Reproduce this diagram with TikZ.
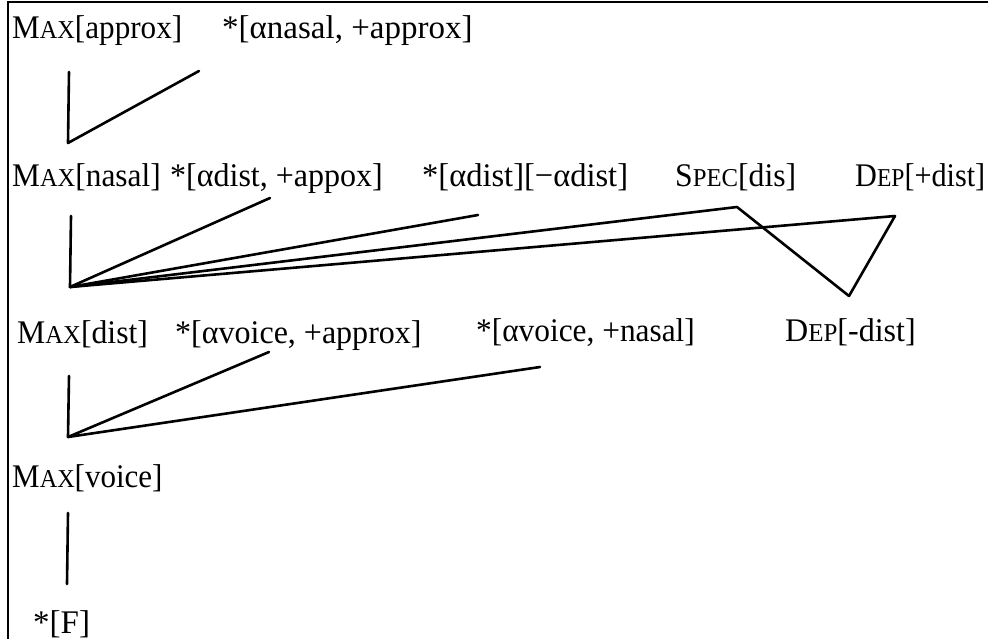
\documentclass[tikz,border=0pt]{standalone}
\usepackage{fontspec}
\setmainfont{Liberation Serif}
\usepackage{graphicx}
\newcommand{\smcap}[2]{#1\scalebox{0.78}{#2}}
\newcommand{\squeeze}[2]{\scalebox{#1}[1]{#2}}

\begin{document}
\begin{tikzpicture}[x=1pt, y=-1pt,
    every node/.style={font=\fontsize{33}{36}\selectfont, anchor=base west, inner sep=0pt},
    link/.style={line width=2.6pt, line cap=round, line join=round}]
  \useasboundingbox (0,0) rectangle (988,639);
  \draw[line width=1.5pt] (8,639) -- (8,2) -- (988,2);

  % top row
  \node (maxapprox) at (12,39) {\squeeze{0.944}{\smcap{M}{AX}[approx]}};
  \node (nasalapprox) at (222,39) {*[αnasal, +approx]};
  \coordinate (v1) at (68,143);
  \coordinate (maxapprox-foot) at (69,72);
  \coordinate (nasalapprox-foot) at (199,71);
  \draw[link] (maxapprox-foot) -- (v1) -- (nasalapprox-foot);

  % second row
  \node (maxnasal) at (12,187) {\squeeze{0.95}{\smcap{M}{AX}[nasal]}};
  \node (distapprox) at (170,187) {\squeeze{0.97}{*[αdist, +appox]}};
  \node (distdist) at (422,187) {\squeeze{0.985}{*[αdist][−αdist]}};
  \node (specdis) at (675,187) {\squeeze{0.96}{\smcap{S}{PEC}[dis]}};
  \node (depplus) at (855,187) {\squeeze{0.915}{\smcap{D}{EP}[+dist]}};
  \coordinate (v2) at (70,287);
  \coordinate (maxnasal-foot) at (71,216);
  \coordinate (distapprox-foot) at (270,198);
  \coordinate (distdist-foot) at (478,215);
  \coordinate (specdis-foot) at (737,207);
  \coordinate (depplus-foot) at (895,216);
  \coordinate (v3) at (849,296);
  \draw[link] (maxnasal-foot) -- (v2);
  \draw[link] (v2) -- (distapprox-foot);
  \draw[link] (v2) -- (distdist-foot);
  \draw[link] (v2) -- (specdis-foot) -- (v3);
  \draw[link] (v2) -- (depplus-foot) -- (v3);

  % third row
  \node (maxdist) at (17,343) {\squeeze{0.96}{\smcap{M}{AX}[dist]}};
  \node (voiceapprox) at (175,343) {\squeeze{0.97}{*[αvoice, +approx]}};
  \node (voicenasal) at (476,341) {\squeeze{0.95}{*[αvoice, +nasal]}};
  \node (depminus) at (785,341) {\squeeze{0.97}{\smcap{D}{EP}[-dist]}};
  \coordinate (v4) at (68,437);
  \coordinate (maxdist-foot) at (69,376);
  \coordinate (voiceapprox-foot) at (269,352);
  \coordinate (voicenasal-foot) at (540,367);
  \draw[link] (maxdist-foot) -- (v4);
  \draw[link] (v4) -- (voiceapprox-foot);
  \draw[link] (v4) -- (voicenasal-foot);

  % bottom row
  \node (maxvoice) at (12,487) {\squeeze{0.94}{\smcap{M}{AX}[voice]}};
  \node (fstar) at (33,633) {*[F]};
  \coordinate (maxvoice-foot) at (68,513);
  \coordinate (fstar-top) at (67,584);
  \draw[link] (maxvoice-foot) -- (fstar-top);
\end{tikzpicture}
\end{document}
